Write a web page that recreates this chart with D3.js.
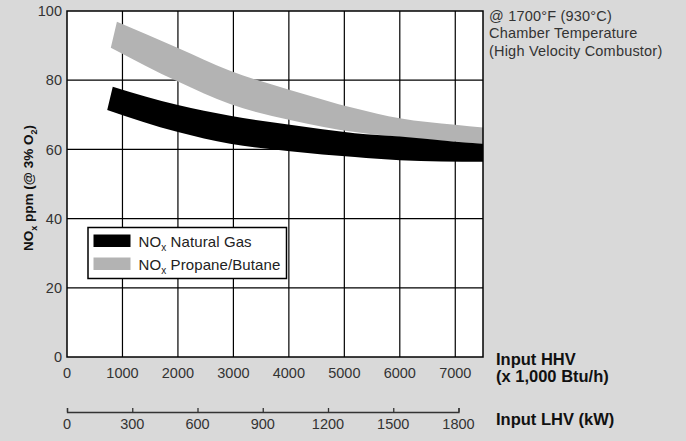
<!DOCTYPE html>
<html>
<head>
<meta charset="utf-8">
<script src="https://cdn.jsdelivr.net/npm/d3@7"></script>
<style>
  body { margin: 0; background: #d9d9d9; }
  svg { display: block; font-family: "Liberation Sans", Arial, sans-serif; }
</style>
</head>
<body>
<svg id="chart"></svg>
<script>
// band edges: [Input HHV (x1000 Btu/h), NOx ppm]
const propaneTop = [[900, 96.9], [2000, 89.3], [2940, 82.7], [4020, 77.2], [5190, 71.9], [6000, 69.0], [7000, 67.1], [7500, 66.3]];
const propaneBottom = [[790, 89.4], [2000, 79.6], [2940, 73.1], [4020, 68.5], [5190, 65.0], [6000, 63.6], [7500, 61.6]];
const gasTop = [[825, 78.1], [2000, 72.8], [2940, 69.7], [4020, 67.1], [5190, 64.7], [6000, 63.7], [7000, 62.2], [7500, 61.6]];
const gasBottom = [[725, 71.4], [2000, 65.0], [2940, 61.6], [4020, 59.5], [5190, 57.8], [6000, 56.9], [7500, 56.4]];

const hhvTicks = [0, 1000, 2000, 3000, 4000, 5000, 6000, 7000];
const ppmTicks = [0, 20, 40, 60, 80, 100];
const lhvTicks = [0, 300, 600, 900, 1200, 1500, 1800];

const series = [
  { name: "Natural Gas", color: "#000000", top: gasTop, bottom: gasBottom },
  { name: "Propane/Butane", color: "#b3b3b3", top: propaneTop, bottom: propaneBottom }
];

const width = 686, height = 441;
const svg = d3.select("#chart").attr("width", width).attr("height", height);

const x = d3.scaleLinear().domain([0, 7500]).range([67, 483]);
const y = d3.scaleLinear().domain([0, 100]).range([357, 11]);
const xLhv = d3.scaleLinear().domain([0, 1800]).range([67, 458.5]);

// plot area
svg.append("rect")
  .attr("x", x(0)).attr("y", y(100))
  .attr("width", x(7500) - x(0)).attr("height", y(0) - y(100))
  .attr("fill", "#fff");

// grid
svg.append("g").selectAll("line")
  .data(hhvTicks.slice(1))
  .join("line")
  .attr("x1", d => x(d)).attr("x2", d => x(d))
  .attr("y1", y(0)).attr("y2", y(100))
  .attr("stroke", "#000").attr("stroke-width", 1.2);

svg.append("g").selectAll("line")
  .data(ppmTicks.slice(1, -1))
  .join("line")
  .attr("x1", x(0)).attr("x2", x(7500))
  .attr("y1", d => y(d)).attr("y2", d => y(d))
  .attr("stroke", "#000").attr("stroke-width", 1.2);

// bands: upper edge, then lower edge back, closed
const edge = d3.line().x(d => x(d[0])).y(d => y(d[1])).curve(d3.curveMonotoneX);
const bandPath = s => edge(s.top) + "L" + edge(s.bottom.slice().reverse()).slice(1) + "Z";

svg.append("g").selectAll("path")
  .data(series.slice().reverse())
  .join("path")
  .attr("d", bandPath)
  .attr("fill", d => d.color);

// border
svg.append("rect")
  .attr("x", x(0)).attr("y", y(100))
  .attr("width", x(7500) - x(0)).attr("height", y(0) - y(100))
  .attr("fill", "none").attr("stroke", "#000").attr("stroke-width", 1.5);

// y tick labels
svg.append("g").selectAll("text")
  .data(ppmTicks)
  .join("text")
  .attr("x", 62).attr("y", d => y(d) + 5.2)
  .attr("text-anchor", "end")
  .attr("font-size", 14.5).attr("fill", "#333")
  .text(d => d);

// HHV tick labels
svg.append("g").selectAll("text")
  .data(hhvTicks)
  .join("text")
  .attr("x", d => x(d)).attr("y", 378)
  .attr("text-anchor", "middle")
  .attr("font-size", 14.5).attr("fill", "#333")
  .text(d => d);

// LHV axis
const lhvAxis = svg.append("g")
  .attr("transform", "translate(0,412)")
  .call(d3.axisTop(xLhv).tickValues(lhvTicks).tickSize(4).tickFormat(""));
lhvAxis.select(".domain").attr("stroke", "#333").attr("stroke-width", 1.3);
lhvAxis.selectAll(".tick line").attr("stroke", "#333").attr("stroke-width", 1.3);

svg.append("g").selectAll("text")
  .data(lhvTicks)
  .join("text")
  .attr("x", d => xLhv(d)).attr("y", 429)
  .attr("text-anchor", "middle")
  .attr("font-size", 14.5).attr("fill", "#333")
  .text(d => d);

// axis titles
const bold = svg.append("g").attr("font-weight", "bold").attr("font-size", 16.5).attr("fill", "#111");
bold.append("text").attr("x", 496).attr("y", 365).text("Input HHV");
bold.append("text").attr("x", 496).attr("y", 382).text("(x 1,000 Btu/h)");
bold.append("text").attr("x", 496).attr("y", 425).text("Input LHV (kW)");

const yTitle = svg.append("text")
  .attr("transform", "translate(33,188) rotate(-90)")
  .attr("text-anchor", "middle")
  .attr("font-weight", "bold").attr("font-size", 13.5).attr("fill", "#111");
yTitle.append("tspan").text("NO");
yTitle.append("tspan").attr("font-size", 9).attr("dy", 3.5).text("x");
yTitle.append("tspan").attr("dy", -3.5).text(" ppm (@ 3% O");
yTitle.append("tspan").attr("font-size", 9).attr("dy", 3.5).text("2");
yTitle.append("tspan").attr("dy", -3.5).text(")");

// note top right
const note = ["@ 1700°F (930°C)", "Chamber Temperature", "(High Velocity Combustor)"];
svg.append("g").selectAll("text")
  .data(note)
  .join("text")
  .attr("x", 489).attr("y", (d, i) => 20.5 + i * 17.5)
  .attr("font-size", 14.5).attr("letter-spacing", 0.2).attr("fill", "#333")
  .text(d => d);

// legend
const legend = svg.append("g").attr("transform", "translate(88,227.5)");
legend.append("rect")
  .attr("width", 198.5).attr("height", 51)
  .attr("fill", "#fff").attr("stroke", "#000").attr("stroke-width", 1.5);
const item = legend.selectAll("g.item")
  .data(series)
  .join("g")
  .attr("class", "item")
  .attr("transform", (d, i) => `translate(0,${i * 23})`);
item.append("rect")
  .attr("x", 5.5).attr("y", 7).attr("width", 37).attr("height", 12.5)
  .attr("fill", d => d.color);
const lt = item.append("text")
  .attr("x", 50.5).attr("y", 19)
  .attr("font-size", 15).attr("letter-spacing", 0.1).attr("fill", "#222");
lt.append("tspan").text("NO");
lt.append("tspan").attr("font-size", 10).attr("dy", 4.5).text("x");
lt.append("tspan").attr("dy", -4.5).text(d => " " + d.name);
</script>
</body>
</html>
